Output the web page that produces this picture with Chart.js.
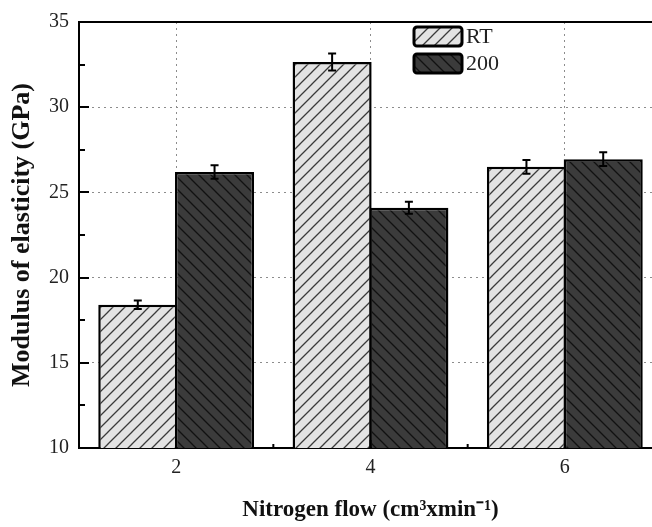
<!DOCTYPE html>
<html>
<head>
<meta charset="utf-8">
<script src="https://cdn.jsdelivr.net/npm/chart.js@4"></script>
<style>
  html, body { margin: 0; padding: 0; background: #fff; overflow: hidden; }
  #wrap { width: 652px; height: 527px; overflow: hidden; }
  #wrap div { width: 664px; height: 527px; }
</style>
</head>
<body>
<div id="wrap"><div><canvas id="chart"></canvas></div></div>
<script>
const categories = ['2', '4', '6'];
const rtValues = [18.4, 32.65, 26.5];
const rtErrors = [0.25, 0.5, 0.4];
const hotValues = [26.2, 24.1, 26.95];
const hotErrors = [0.4, 0.35, 0.4];
const seriesNames = ['RT', '200'];

const serif = "'Liberation Serif', 'Times New Roman', serif";

function hatch(bg, fg, dir) {
  const s = 12;
  const c = document.createElement('canvas');
  c.width = s; c.height = s;
  const g = c.getContext('2d');
  g.fillStyle = bg;
  g.fillRect(0, 0, s, s);
  g.strokeStyle = fg;
  g.lineWidth = 1.3;
  g.beginPath();
  if (dir === '/') {
    g.moveTo(-2, s + 2); g.lineTo(s + 2, -2);
    g.moveTo(-2, 2); g.lineTo(2, -2);
    g.moveTo(s - 2, s + 2); g.lineTo(s + 2, s - 2);
  } else {
    g.moveTo(-2, -2); g.lineTo(s + 2, s + 2);
    g.moveTo(s - 2, -2); g.lineTo(s + 2, 2);
    g.moveTo(-2, s - 2); g.lineTo(2, s + 2);
  }
  g.stroke();
  return document.getElementById('chart').getContext('2d').createPattern(c, 'repeat');
}

const rtFill = hatch('#e3e3e3', '#3a3a3a', '/');
const hotFill = hatch('#3b3b3b', '#111', '\\');

const extras = {
  id: 'extras',
  afterDatasetsDraw(chart) {
    const ctx = chart.ctx;
    const area = chart.chartArea;
    const x = chart.scales.x, y = chart.scales.y;
    ctx.save();
    // error bars
    const errs = [rtErrors, hotErrors];
    chart.data.datasets.forEach((ds, di) => {
      const meta = chart.getDatasetMeta(di);
      meta.data.forEach((bar, i) => {
        const v = ds.data[i], e = errs[di][i];
        const yt = y.getPixelForValue(v + e), yb = y.getPixelForValue(v - e);
        ctx.strokeStyle = '#000';
        ctx.lineWidth = 2;
        ctx.beginPath();
        ctx.moveTo(bar.x, yt); ctx.lineTo(bar.x, yb);
        ctx.moveTo(bar.x - 4, yt); ctx.lineTo(bar.x + 4, yt);
        ctx.moveTo(bar.x - 4, yb); ctx.lineTo(bar.x + 4, yb);
        ctx.stroke();
      });
    });
    // top frame
    ctx.strokeStyle = '#000';
    ctx.lineWidth = 2;
    ctx.beginPath();
    ctx.moveTo(area.left, area.top); ctx.lineTo(area.right, area.top);
    ctx.stroke();
    // inward y ticks
    for (let v = 10; v <= 35; v += 2.5) {
      const py = Math.round(y.getPixelForValue(v));
      const len = (v % 5 === 0) ? 10 : 6;
      ctx.beginPath();
      ctx.moveTo(area.left, py); ctx.lineTo(area.left + len, py);
      ctx.stroke();
    }
    // x ticks
    for (let i = 0; i < categories.length; i++) {
      const px = x.getPixelForValue(i);
      ctx.beginPath();
      ctx.moveTo(px, area.bottom); ctx.lineTo(px, area.bottom - 8);
      ctx.stroke();
      const mx = px + (x.getPixelForValue(1) - x.getPixelForValue(0)) / 2;
      ctx.beginPath();
      ctx.moveTo(mx, area.bottom); ctx.lineTo(mx, area.bottom - 4);
      ctx.stroke();
    }
    // legend
    const fills = [rtFill, hotFill];
    seriesNames.forEach((name, i) => {
      const bx = 414, by = 27 + i * 27, bw = 48, bh = 19;
      ctx.beginPath();
      ctx.roundRect(bx, by, bw, bh, 3);
      ctx.fillStyle = fills[i];
      ctx.fill();
      ctx.lineWidth = 3;
      ctx.strokeStyle = '#000';
      ctx.stroke();
      ctx.fillStyle = '#222';
      ctx.font = '22px ' + serif;
      ctx.textBaseline = 'middle';
      ctx.textAlign = 'left';
      ctx.fillText(name, bx + bw + 4, by + bh / 2 + 1);
    });
    ctx.restore();
  }
};

new Chart(document.getElementById('chart'), {
  type: 'bar',
  data: {
    labels: categories,
    datasets: [
      { label: seriesNames[0], data: rtValues, backgroundColor: rtFill, borderColor: '#000', borderWidth: 2.5 },
      { label: seriesNames[1], data: hotValues, backgroundColor: hotFill, borderColor: '#000', borderWidth: 2.5 }
    ]
  },
  options: {
    responsive: true,
    maintainAspectRatio: false,
    animation: false,
    layout: { padding: { left: 0, top: 19, right: 2, bottom: 0 } },
    datasets: { bar: { categoryPercentage: 0.79, barPercentage: 1.03 } },
    plugins: { legend: { display: false }, tooltip: { enabled: false } },
    scales: {
      x: {
        afterFit(s) { s.height = 79; },
        grid: { offset: false, drawTicks: false, color: '#8c8c8c', lineWidth: 1 },
        border: { color: '#000', width: 2, dash: [2, 4] },
        ticks: { color: '#222', padding: 8, font: { family: serif, size: 20 } },
        title: { display: true, text: 'Nitrogen flow (cm³xmin⁻¹)', color: '#111', padding: { top: 0, bottom: 3 }, font: { family: serif, size: 23, weight: 'bold' } }
      },
      y: {
        min: 10, max: 35,
        afterFit(s) { s.width = 79; },
        grid: { drawTicks: false, color: '#8c8c8c', lineWidth: 1 },
        border: { color: '#000', width: 2, dash: [2, 4] },
        ticks: { stepSize: 5, color: '#222', padding: 10, font: { family: serif, size: 20 } },
        title: { display: true, text: 'Modulus of elasticity (GPa)', color: '#111', padding: { top: 7, bottom: 0 }, font: { family: serif, size: 26, weight: 'bold' } }
      }
    }
  },
  plugins: [extras]
});
</script>
</body>
</html>
